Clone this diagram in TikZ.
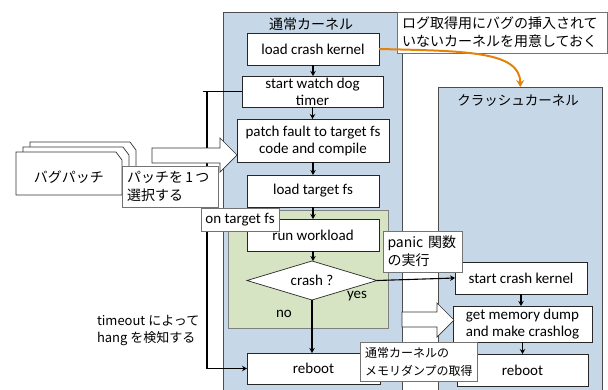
\documentclass[tikz,border=0pt]{standalone}
\usepackage{fontspec}
\setmainfont{Carlito}
\newfontfamily\jpfont{Noto Sans CJK JP}
\usetikzlibrary{arrows.meta,shapes.geometric}
\definecolor{panelblue}{HTML}{C6D7E7}
\definecolor{panelgreen}{HTML}{D7E4C4}
\definecolor{edgegray}{HTML}{4D4D4D}
\definecolor{orangeline}{HTML}{E5820A}
\begin{document}
\begin{tikzpicture}[x=1pt,y=-1pt,
  every node/.style={inner sep=0pt, outer sep=0pt},
  panel/.style={draw=edgegray, fill=panelblue, line width=0.8pt, anchor=north west},
  stepbox/.style={draw=black!85, fill=white, line width=0.7pt, minimum width=132pt, minimum height=32pt, font=\fontsize{15}{17}\selectfont, align=center},
  annot/.style={draw=black!55, fill=white, line width=0.7pt, align=left, inner xsep=5pt, font=\jpfont\fontsize{14}{18}\selectfont},
  flow/.style={line width=1.1pt, -{Stealth[length=5pt,width=5.5pt]}},
  jplabel/.style={font=\jpfont\fontsize{14}{18}\selectfont},
  enlabel/.style={font=\fontsize{15}{17}\selectfont},
  blockarrow/.style={draw=black!80, fill=white, line width=0.7pt},
  docpage/.style={draw=black!80, fill=white, line width=0.7pt}
]
\clip (0,0) rectangle (608,389);
\fill[white] (0,0) rectangle (608,389);

% panels
\node[panel, minimum width=179pt, minimum height=383pt] (np) at (223,12) {};
\node[panel, minimum width=163.5pt, minimum height=308pt] (kp) at (438.5,87) {};
\filldraw[fill=panelgreen, draw=black!50, line width=0.7pt] (228,210) rectangle (388,328);

\node[jplabel] (t1) at (311,24) {通常カーネル};
\node[jplabel, font=\jpfont\fontsize{13.5}{18}\selectfont] (t2) at (518,101) {クラッシュカーネル};

% steps
\node[stepbox] (lck) at (313,49) {load crash kernel};
\node[stepbox, minimum width=141pt, minimum height=31pt] (swd) at (312.5,91.5) {start watch dog\\timer};
\node[stepbox, minimum width=152pt, minimum height=43pt] (pf) at (313,140.5) {patch fault to target fs\\code and compile};
\node[stepbox] (ltf) at (313,191) {load target fs};
\node[stepbox] (rw) at (313,235) {run workload};
\node[diamond, draw=black!85, fill=white, line width=0.7pt, aspect=3.33, minimum width=130pt, minimum height=39pt, font=\fontsize{15}{17}\selectfont] (cr) at (312,280.5) {crash ?};
\node[stepbox, minimum width=133pt, minimum height=31pt] (rb1) at (313.5,368.5) {reboot};
\node[stepbox] (sck) at (521,278) {start crash kernel};
\node[stepbox, minimum width=139pt, minimum height=36pt] (gmd) at (522.5,324) {get memory dump\\and make crashlog};
\node[stepbox, minimum width=131pt] (rb2) at (522.5,370) {reboot};

\node[enlabel] (yes) at (357,296) {yes};
\node[enlabel] (no) at (284,314) {no};

% flows
\draw[flow] (lck.south) -- (lck.south |- swd.north);
\draw[flow] (swd.south) -- (swd.south |- pf.north);
\draw[flow] (pf.south) -- (pf.south |- ltf.north);
\draw[flow] (ltf.south) -- (ltf.south |- rw.north);
\draw[flow] (rw.south) -- (rw.south |- cr.north);
\draw[flow] (cr.south) -- (cr.south |- rb1.north);
\draw[flow] (cr.east) -- (sck.west);
\draw[flow] (sck.south) -- (sck.south |- gmd.north);
\draw[flow] (gmd.south) -- (gmd.south |- rb2.north);

% watchdog timeout line
\coordinate (wd) at (207,91.5);
\coordinate (wdstub) at (203,91.5);
\draw[line width=1.1pt] (swd.west) -- (wdstub);
\draw[flow] (wd) -- (wd |- rb1.west) -- (rb1.west);

% patch documents
\foreach \dx/\dy in {14/-10, 7/-5, 0/0}
  \draw[docpage] ({16+\dx},{152+\dy}) -- ++(100,0) -- ++(6,8) -- ++(0,35) -- ++(-106,0) -- cycle;
\node[jplabel] (bp) at (69,177) {バグパッチ};

% block arrows
\draw[blockarrow] (152,148) -- (220,148) -- (220,138) -- (237,155) -- (220,172) -- (220,163) -- (152,163) -- cycle;
\draw[blockarrow] (402,312) -- (437,312) -- (437,303) -- (454,320) -- (437,337) -- (437,327) -- (402,327) -- cycle;

% annotations
\node[annot, text width=200pt, minimum height=41pt] (n1) at (502,32.5) {ログ取得用にバグの挿入されて\\いないカーネルを用意しておく};
\node[annot, text width=86pt, minimum height=41pt] (sel) at (170,186.5) {パッチを\,1\,つ\\選択する};
\node[annot, font=\fontsize{15}{17}\selectfont, inner xsep=4pt, minimum width=78pt, minimum height=23pt] (ot) at (240,219.5) {on target fs};
\node[annot, text width=70pt, inner xsep=4.5pt, minimum height=41pt] (pn) at (422.5,251.5) {panic 関数\\の実行};
\node[annot, text width=107pt, minimum height=39pt, font=\jpfont\fontsize{12}{18}\selectfont] (mm) at (418.5,361.5) {通常カーネルの\\メモリダンプの取得};
\node[font=\jpfont\fontsize{13}{17}\selectfont, align=left, anchor=west] (tol) at (97,330.5) {timeout によって\\hang を検知する};

% orange arrow
\draw[orangeline, line width=2pt, -{Stealth[length=7pt,width=8pt]}] (lck.east) .. controls (465,51) and (kp.north |- 0,51) .. (kp.north);
\end{tikzpicture}
\end{document}
